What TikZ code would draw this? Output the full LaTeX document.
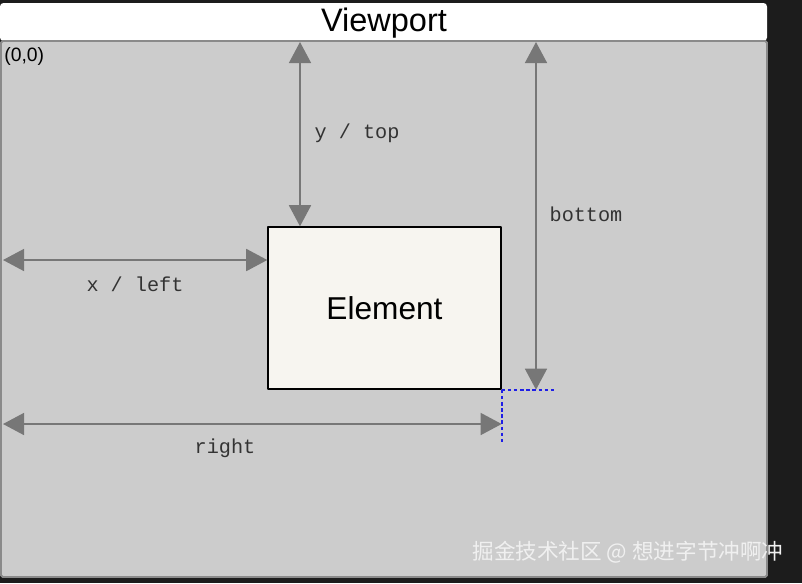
\documentclass[tikz,border=0pt]{standalone}
\usepackage{fontspec}
\setmainfont{Liberation Sans}
\setmonofont{Liberation Mono}
\newfontfamily\cjk{Noto Sans CJK SC}
\usetikzlibrary{positioning,calc,arrows.meta}
\definecolor{pagebg}{HTML}{1C1C1C}
\definecolor{vpfill}{HTML}{CCCCCC}
\definecolor{vpedge}{HTML}{8A8A8A}
\definecolor{dimgray}{HTML}{777777}
\definecolor{elemfill}{HTML}{F7F5F0}
\definecolor{guideblue}{HTML}{1E1EE6}

\begin{document}
\begin{tikzpicture}[x=0.02cm, y=-0.02cm, line cap=round, line join=round,
  dimline/.style={draw=dimgray, line width=1.1pt,
    {Triangle[length=12pt,width=12.5pt]}-{Triangle[length=12pt,width=12.5pt]}},
  dimlabel/.style={font=\ttfamily\fontsize{11.5}{13}\selectfont, text=black!80},
  guide/.style={draw=guideblue, line width=1.1pt, dash pattern=on 2pt off 1.5pt, line cap=butt}]
  % page
  \useasboundingbox (0,0) rectangle (802,583);
  \fill[pagebg] (0,0) rectangle (802,583);

  % viewport
  \fill[white, rounded corners=2pt] (0,3) rectangle (767,41);
  \node[font=\fontsize{18.5}{22}\selectfont] (title) at (384,23) {Viewport};
  \filldraw[fill=vpfill, draw=vpedge, line width=1.1pt, rounded corners=1pt]
    (1,41) rectangle (767,577);
  \node[font=\fontsize{11}{13}\selectfont, anchor=west, inner sep=0pt] (origin) at (4,56) {(0,0)};

  % element
  \node[draw=black, fill=elemfill, line width=0.8pt, inner sep=0pt,
        minimum width=4.66cm, minimum height=3.24cm,
        font=\fontsize{18}{21}\selectfont] (elem) at (384.5,308) {Element};

  % free ends on the viewport edges
  \coordinate (topend)  at (300,42);
  \coordinate (botend)  at (536,42);
  \coordinate (leftend) at (3,260);
  \coordinate (rightend) at (3,424);

  % dimensions
  \draw[dimline] (topend) -- (topend |- elem.north);
  \draw[dimline] (botend) -- (botend |- elem.south);
  \draw[dimline] (leftend) -- (leftend -| elem.west);
  \draw[dimline] (rightend) -- (rightend -| elem.east);

  \node[dimlabel] (ylab) at (357,133) {y / top};
  \node[dimlabel] (blab) at (586,214) {bottom};
  \node[dimlabel] (xlab) at (135,284) {x / left};
  \node[dimlabel] (rlab) at (225,448) {right};

  % guides at the lower right corner
  \draw[guide] (elem.south east) -- ++(54,0);
  \draw[guide] (elem.south east) -- ++(0,53);

  % watermark
  \node[font=\cjk\fontsize{12.3}{14}\selectfont, text=white!94!black] (mark) at (628,552)
    {掘金技术社区 @ 想进字节冲啊冲};
\end{tikzpicture}
\end{document}
